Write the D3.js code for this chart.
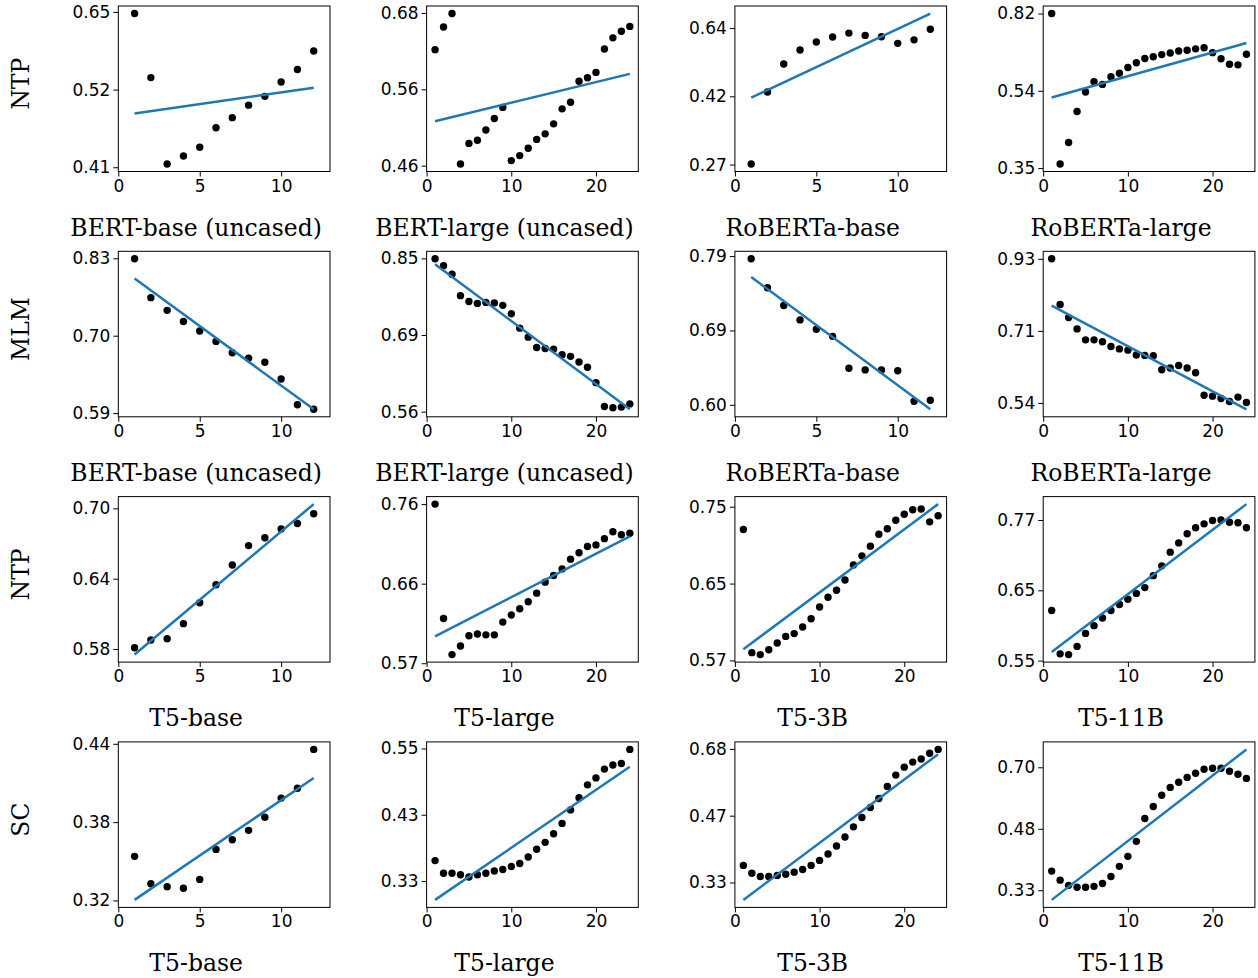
<!DOCTYPE html>
<html><head><meta charset="utf-8">
<script src="https://cdn.jsdelivr.net/npm/d3@7"></script>
<style>body{margin:0;background:#fff}</style>
</head><body><svg id="c" width="1258" height="978"></svg>
<script>
// ---------------- data ----------------
const rowLabels = ["NTP", "MLM", "NTP", "SC"];
const bertTitles = ["BERT-base (uncased)", "BERT-large (uncased)", "RoBERTa-base", "RoBERTa-large"];
const t5Titles = ["T5-base", "T5-large", "T5-3B", "T5-11B"];

const layers12 = [1,2,3,4,5,6,7,8,9,10,11,12];
const layers24 = [1,2,3,4,5,6,7,8,9,10,11,12,13,14,15,16,17,18,19,20,21,22,23,24];
const xTicks12 = [0, 5, 10];
const xTicks24 = [0, 10, 20];

const ntpBertBase = [0.647,0.535,0.414,0.424,0.435,0.461,0.475,0.493,0.506,0.528,0.548,0.579];
const ntpBertLarge = [0.619,0.656,0.679,0.462,0.487,0.491,0.504,0.519,0.534,0.466,0.472,0.481,0.492,0.499,0.512,0.532,0.541,0.571,0.576,0.584,0.620,0.638,0.649,0.657];
const ntpRobertaBase = [0.271,0.427,0.510,0.557,0.586,0.605,0.620,0.611,0.606,0.581,0.594,0.635];
const ntpRobertaLarge = [0.820,0.358,0.403,0.478,0.532,0.563,0.555,0.579,0.590,0.609,0.625,0.640,0.646,0.654,0.660,0.667,0.670,0.675,0.679,0.661,0.639,0.620,0.618,0.655];

const mlmBertBase = [0.829,0.761,0.740,0.722,0.707,0.691,0.674,0.666,0.660,0.636,0.601,0.595];
const mlmBertLarge = [0.849,0.833,0.814,0.768,0.756,0.752,0.754,0.753,0.748,0.731,0.703,0.686,0.667,0.665,0.664,0.654,0.651,0.641,0.632,0.606,0.568,0.566,0.567,0.572];
const mlmRobertaBase = [0.786,0.745,0.721,0.702,0.690,0.681,0.642,0.640,0.640,0.639,0.604,0.605];
const mlmRobertaLarge = [0.930,0.783,0.745,0.714,0.685,0.685,0.680,0.668,0.662,0.659,0.647,0.646,0.645,0.612,0.616,0.622,0.616,0.605,0.556,0.554,0.549,0.543,0.552,0.541];

const ntpT5Base = [0.581,0.587,0.588,0.600,0.617,0.632,0.649,0.666,0.673,0.681,0.686,0.695];
const ntpT5Large = [0.760,0.618,0.579,0.588,0.599,0.601,0.600,0.600,0.614,0.622,0.629,0.637,0.647,0.660,0.668,0.676,0.688,0.696,0.704,0.706,0.714,0.723,0.719,0.721];
const ntpT53B = [0.720,0.578,0.576,0.581,0.588,0.595,0.598,0.605,0.614,0.627,0.638,0.646,0.658,0.676,0.687,0.699,0.714,0.721,0.732,0.740,0.746,0.747,0.730,0.738];
const ntpT511B = [0.620,0.559,0.558,0.569,0.587,0.598,0.609,0.620,0.629,0.637,0.646,0.655,0.674,0.690,0.713,0.729,0.745,0.756,0.763,0.769,0.770,0.766,0.765,0.756];

const scT5Base = [0.350,0.331,0.329,0.328,0.334,0.355,0.362,0.369,0.379,0.394,0.402,0.435];
const scT5Large = [0.357,0.340,0.340,0.338,0.335,0.338,0.340,0.343,0.345,0.349,0.353,0.362,0.373,0.383,0.396,0.412,0.434,0.455,0.478,0.491,0.508,0.516,0.519,0.548];
const scT53B = [0.362,0.347,0.341,0.341,0.343,0.345,0.349,0.354,0.362,0.372,0.385,0.402,0.422,0.446,0.469,0.495,0.520,0.555,0.590,0.616,0.633,0.644,0.664,0.678];
const scT511B = [0.371,0.351,0.340,0.336,0.336,0.338,0.344,0.359,0.382,0.406,0.445,0.512,0.551,0.590,0.619,0.639,0.658,0.675,0.692,0.696,0.696,0.683,0.671,0.654];

const yTickLabels = [
  ["0.41","0.52","0.65"], ["0.46","0.56","0.68"], ["0.27","0.42","0.64"], ["0.35","0.54","0.82"],
  ["0.59","0.70","0.83"], ["0.56","0.69","0.85"], ["0.60","0.69","0.79"], ["0.54","0.71","0.93"],
  ["0.58","0.64","0.70"], ["0.57","0.66","0.76"], ["0.57","0.65","0.75"], ["0.55","0.65","0.77"],
  ["0.32","0.38","0.44"], ["0.33","0.43","0.55"], ["0.33","0.47","0.68"], ["0.33","0.48","0.70"]
];

const seriesGrid = [
  [ntpBertBase, ntpBertLarge, ntpRobertaBase, ntpRobertaLarge],
  [mlmBertBase, mlmBertLarge, mlmRobertaBase, mlmRobertaLarge],
  [ntpT5Base, ntpT5Large, ntpT53B, ntpT511B],
  [scT5Base, scT5Large, scT53B, scT511B]
];
const titleGrid = [bertTitles, bertTitles, t5Titles, t5Titles];

// ---------------- layout ----------------
const svg = d3.select("#c");
const W = 211.7, H = 165.5;
const colX = c => 118.3 + c * 308.3;
const rowY = r => 6 + r * 245.3;
const tickFont = "DejaVu Sans, sans-serif";
const serif = "DejaVu Serif, serif";

seriesGrid.forEach((row, r) => {
  svg.append("text")
    .attr("transform", `translate(21,${rowY(r) + H / 2 - 5}) rotate(-90)`)
    .attr("text-anchor", "middle").attr("dominant-baseline", "central")
    .attr("font-family", serif).attr("font-size", 23.5).attr("fill", "#000")
    .text(rowLabels[r]);

  row.forEach((values, c) => {
    const i = r * 4 + c;
    const layers = values.length === 12 ? layers12 : layers24;
    const xTicks = values.length === 12 ? xTicks12 : xTicks24;
    const n = layers.length;
    const x0 = colX(c), y0 = rowY(r);
    const g = svg.append("g").attr("transform", `translate(${x0},${y0})`);

    // least squares fit on log values
    const ly = values.map(Math.log);
    const mx = d3.mean(layers), my = d3.mean(ly);
    const slope = d3.sum(layers.map((x, k) => (x - mx) * (ly[k] - my))) / d3.sum(layers.map(x => (x - mx) ** 2));
    const fitPts = [layers[0], layers[n - 1]].map(x => [x, Math.exp(my + slope * (x - mx))]);

    const allLn = ly.concat(fitPts.map(d => Math.log(d[1])));
    const lo = d3.min(allLn), hi = d3.max(allLn), pad = (hi - lo) * 0.05;

    const xs = d3.scaleLinear().domain([0, n + 1]).range([0, W]);
    const ys = d3.scaleLog().domain([Math.exp(lo - pad), Math.exp(hi + pad)]).range([H, 0]);

    const labels = yTickLabels[i];
    const tlo = +labels[0], thi = +labels[2];
    const yTickVals = [tlo, Math.sqrt(tlo * thi), thi];

    const xa = g.append("g").attr("transform", `translate(0,${H})`)
      .call(d3.axisBottom(xs).tickValues(xTicks).tickSize(5).tickPadding(3).tickFormat(d3.format("d")));
    const ya = g.append("g")
      .call(d3.axisLeft(ys).tickValues(yTickVals).tickSize(5).tickPadding(3).tickFormat((d, k) => labels[k]));
    [xa, ya].forEach(a => {
      a.select(".domain").remove();
      a.selectAll("line").attr("stroke", "#000").attr("stroke-width", 1);
      a.selectAll("text").attr("font-family", tickFont).attr("font-size", 17).attr("fill", "#000");
    });

    g.selectAll("circle").data(values).enter().append("circle")
      .attr("cx", (d, k) => xs(layers[k])).attr("cy", d => ys(d)).attr("r", 3.7).attr("fill", "#000");

    g.append("path").datum(fitPts)
      .attr("d", d3.line().x(d => xs(d[0])).y(d => ys(d[1])))
      .attr("fill", "none").attr("stroke", "#1f77b4").attr("stroke-width", 2.5);

    g.append("rect").attr("x", 0).attr("y", 0).attr("width", W).attr("height", H)
      .attr("fill", "none").attr("stroke", "#000").attr("stroke-width", 1);

    svg.append("text")
      .attr("x", x0 + W / 2 - 28).attr("y", y0 + H + 56)
      .attr("text-anchor", "middle").attr("dominant-baseline", "central")
      .attr("font-family", serif).attr("font-size", 23.5).attr("fill", "#000")
      .text(titleGrid[r][c]);
  });
});
</script>
</body></html>
